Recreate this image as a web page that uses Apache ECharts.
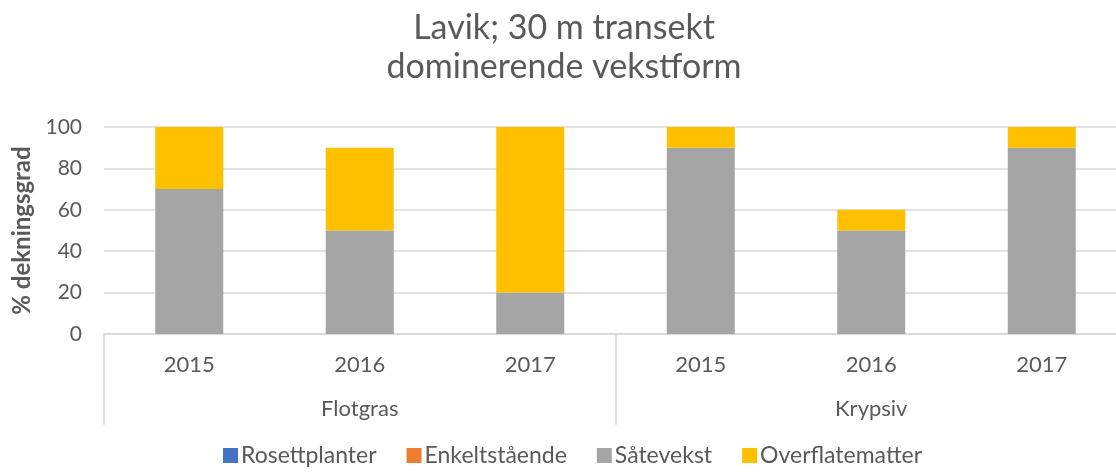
<!DOCTYPE html>
<html>
<head>
<meta charset="utf-8">
<script src="https://cdn.jsdelivr.net/npm/echarts@6/dist/echarts.min.js"></script>
<style>
  html, body { margin: 0; padding: 0; background: #fff; }
  #chart { width: 1116px; height: 472px; }
</style>
</head>
<body>
<div id="chart"></div>
<script>
// chart values
var years = ['2015', '2016', '2017', '2015', '2016', '2017'];
var groups = ['Flotgras', 'Krypsiv'];
var seriesNames = ['Rosettplanter', 'Enkeltstående', 'Såtevekst', 'Overflatematter'];
var rosettplanter = [0, 0, 0, 0, 0, 0];
var enkeltstaende = [0, 0, 0, 0, 0, 0];
var satevekst = [70, 50, 20, 90, 50, 90];
var overflatematter = [30, 40, 80, 10, 10, 10];
var colors = ['#4472C4', '#ED7D31', '#A5A5A5', '#FFC000'];

var chart = echarts.init(document.getElementById('chart'));
var font = 'Lato, "Noto Sans", sans-serif';
var txt = '#595959';

var allData = [rosettplanter, enkeltstaende, satevekst, overflatematter];
var series = [];
for (var i = 0; i < seriesNames.length; i++) {
    series.push({
        name: seriesNames[i],
        type: 'bar',
        stack: 'total',
        barWidth: 68,
        itemStyle: { color: colors[i] },
        data: allData[i]
    });
}

var option = {
    color: colors,
    animation: false,
    textStyle: { fontFamily: font },
    title: {
        text: 'Lavik; 30 m transekt\ndominerende vekstform',
        left: 559,
        textAlign: 'center',
        top: 4,
        textStyle: {
            color: txt,
            fontFamily: font,
            fontSize: 34,
            fontWeight: 'normal',
            lineHeight: 39
        }
    },
    legend: {
        bottom: 0,
        left: 218,
        itemWidth: 15,
        itemHeight: 15,
        itemGap: 30,
        icon: 'rect',
        textStyle: { color: txt, fontSize: 23, fontFamily: font, padding: [0, 0, 0, -2] },
        data: seriesNames
    },
    grid: {
        left: 104,
        width: 1023,
        top: 127,
        bottom: 138,
        outerBoundsMode: 'none',
        containLabel: false
    },
    xAxis: [
        {
            type: 'category',
            data: years,
            axisLine: { lineStyle: { color: '#d9d9d9', width: 1.5 } },
            axisTick: { show: false },
            axisLabel: { color: txt, fontSize: 22, fontFamily: font, margin: 20 }
        },
        {
            type: 'category',
            data: groups,
            position: 'bottom',
            axisLine: { show: false },
            axisTick: { show: true, length: 91, interval: 0, lineStyle: { color: '#d9d9d9', width: 1.5 } },
            axisLabel: { color: txt, fontSize: 22, fontFamily: font, margin: 64 }
        }
    ],
    yAxis: {
        type: 'value',
        min: 0,
        max: 100,
        interval: 20,
        name: '% dekningsgrad',
        nameLocation: 'middle',
        nameGap: 69,
        nameTextStyle: { color: txt, fontSize: 24, fontWeight: 'bold', fontFamily: font },
        axisLine: { show: false },
        axisTick: { show: false },
        axisLabel: { color: txt, fontSize: 21, fontFamily: font, margin: 22 },
        splitLine: { lineStyle: { color: '#d9d9d9', width: 1.5 } }
    },
    series: series
};
chart.setOption(option);
</script>
</body>
</html>
